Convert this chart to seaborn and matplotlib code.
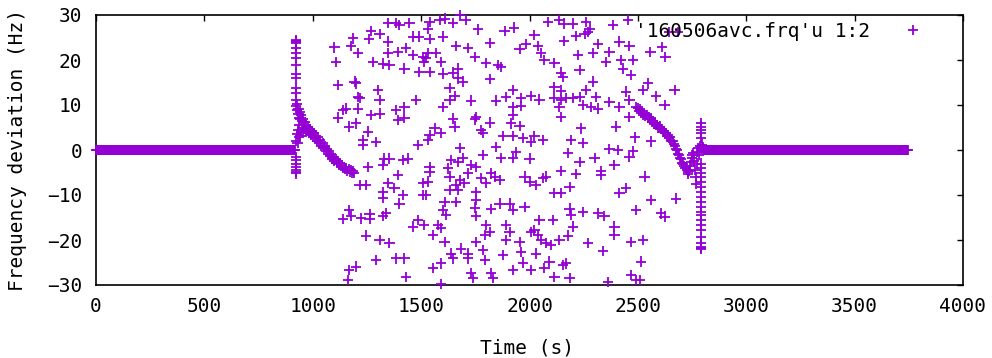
import numpy as np
import pandas as pd
import matplotlib
matplotlib.use("Agg")
import matplotlib.pyplot as plt
import seaborn as sns

# ---------------- data ----------------
series_label = "'160506avc.frq'u 1:2"
x_ticks = [0, 500, 1000, 1500, 2000, 2500, 3000, 3500, 4000]
y_ticks = [-30, -20, -10, 0, 10, 20, 30]

# steady baseline segments: (start s, end s, value Hz), sampled every few seconds
baseline_segments = [(0, 918, 0.0), (2800, 3745, 0.0)]
baseline_step = 3

# vertical transients (time, values)
spike1_t = 924
spike1_f = [24.4, 24.2, 24.0, 23.7, 22.6, 21.5, 20.4, 18.9, 17.0, 15.9, 13.7,
            12.6, 11.1, -1.5, -2.2, -3.0, -3.7, -4.4, -4.9, -5.2]
spike2_t = 2793
spike2_f = [5.9, 5.2, 4.4, 3.7, 2.6, -3.0, -4.0, -5.0, -6.0, -7.0, -8.2, -9.3,
            -10.4, -11.5, -12.6, -13.7, -14.5, -15.6, -16.7, -17.8, -19.3,
            -20.7, -21.5, -21.7, -21.9]

# dense decay after first event
decay1 = [(922, 9.8), (924, 2.0), (926, 9.0), (927, 3.5), (928, 10.2), (930, 1.5),
          (931, 8.0), (932, 4.5), (934, 9.2), (935, 2.8), (937, 7.2), (938, 5.5),
          (940, 8.5), (941, 3.2), (943, 6.8), (945, 4.0), (947, 7.8), (949, 5.0),
          (951, 6.5), (953, 4.2), (955, 7.0), (958, 5.5), (961, 4.8), (964, 6.2),
          (967, 4.0), (970, 5.6), (974, 4.4), (978, 5.2), (982, 3.8), (986, 4.6),
          (990, 3.4), (995, 4.2), (1000, 3.0), (1005, 3.8), (1010, 2.6), (1015, 3.2),
          (1020, 2.0), (1025, 2.8), (1030, 1.6), (1035, 2.2), (1040, 1.0), (1045, 1.6),
          (1050, 0.4), (1055, 0.9), (1060, -0.2), (1065, 0.3), (1070, -0.8), (1075, -0.3),
          (1080, -1.4), (1085, -0.9), (1090, -1.9), (1095, -1.5), (1100, -2.4), (1105, -2.0),
          (1110, -2.8), (1115, -2.5), (1120, -3.2), (1125, -2.9), (1130, -3.6), (1135, -3.3),
          (1140, -4.0), (1145, -3.7), (1150, -4.3), (1155, -4.0), (1160, -4.6), (1165, -4.3),
          (1170, -4.8), (1175, -4.5), (1180, -5.0), (1185, -4.7), (1190, -5.1)]

# dense recovery before second event
decay2 = [(2500, 9.3), (2505, 8.6), (2510, 9.0), (2515, 8.3), (2520, 8.6), (2525, 7.9),
          (2530, 8.2), (2535, 7.5), (2540, 7.8), (2545, 7.1), (2550, 7.4), (2555, 6.8),
          (2560, 7.0), (2565, 6.3), (2570, 6.5), (2575, 5.9), (2580, 6.1), (2585, 5.5),
          (2590, 5.6), (2595, 5.0), (2600, 5.2), (2605, 4.6), (2610, 4.7), (2615, 4.1),
          (2620, 4.3), (2625, 3.7), (2630, 3.8), (2635, 3.2), (2640, 3.3), (2645, 2.7),
          (2650, 2.8), (2655, 2.1), (2660, 2.0), (2665, 1.3), (2670, 1.0), (2675, 0.3),
          (2680, 0.0), (2685, -0.8), (2690, -1.0), (2695, -1.8), (2700, -2.1), (2705, -2.8),
          (2710, -3.0), (2715, -3.6), (2720, -3.9), (2725, -4.4), (2730, -4.8), (2733, -5.4),
          (2737, -4.6), (2740, -3.6), (2744, -2.6), (2748, -1.8), (2752, -1.2), (2756, -0.6),
          (2760, -2.5), (2763, -4.5), (2766, -6.0), (2769, -7.5), (2772, -3.0), (2775, -0.5),
          (2778, 0.5), (2782, -1.0), (2786, 0.8), (2790, 0.3), (2797, 1.2), (2800, 0.6)]

# scattered (unlocked) readings, upper half
scatter_upper = [
    (1346, 28.3), (1382, 28.3), (1400, 27.8), (1446, 28.3), (1269, 26.5), (1308, 25.8),
    (1185, 24.8), (1259, 24.6), (1346, 24.1), (1462, 25.2), (1492, 25.2), (1100, 22.8),
    (1177, 23.1), (1208, 21.5), (1346, 21.5), (1392, 21.8), (1431, 22.6), (1462, 21.1),
    (1508, 20.7), (1108, 19.6), (1277, 19.6), (1323, 19.2), (1354, 18.9), (1423, 18.1),
    (1492, 17.4), (1515, 19.6), (1116, 14.4), (1193, 15.2), (1200, 14.8), (1300, 13.3),
    (1308, 11.1), (1208, 11.8), (1216, 11.5), (1477, 11.1), (1154, 9.2), (1139, 8.9),
    (1208, 9.2), (1116, 7.2), (1269, 7.8), (1308, 8.1), (1385, 8.9), (1423, 9.6),
    (1392, 6.6), (1423, 7.2), (1169, 5.2), (1200, 5.9), (1254, 4.1), (1231, 2.2),
    (1292, 1.8), (1231, 1.1), (1485, 1.1),
    (1539, 28.5), (1585, 28.9), (1608, 29.2), (1647, 28.3), (1678, 29.9), (1708, 28.9),
    (1762, 26.8), (1885, 26.5), (1928, 27.2), (1531, 27.0), (1601, 25.2), (1539, 24.6),
    (1662, 23.1), (1716, 22.6), (1816, 23.8), (1747, 20.6), (1801, 19.4), (1854, 18.9),
    (1870, 18.5), (1954, 22.4), (1985, 23.5), (1531, 21.6), (1570, 21.5), (1524, 20.4),
    (1593, 19.6), (1539, 17.4), (1601, 17.0), (1647, 17.2), (1670, 18.1), (1670, 15.9),
    (1693, 15.2), (1816, 15.7), (1631, 13.7), (1654, 12.0), (1631, 11.1), (1731, 11.0),
    (1847, 11.0), (1893, 11.7), (1924, 13.3), (1962, 11.5), (2008, 12.0), (1601, 9.5),
    (1924, 9.5), (1962, 9.8), (1924, 7.8), (1754, 7.4), (1747, 6.8), (1647, 7.0),
    (1654, 5.2), (1816, 6.1), (1777, 4.4), (1785, 3.8), (1916, 5.9), (1954, 5.3),
    (1562, 4.8), (1593, 3.7), (1539, 3.3), (1531, 2.2), (1877, 3.1), (1924, 3.1),
    (1970, 2.6), (2008, 1.8),
    (2085, 28.5), (2138, 28.9), (2161, 28.1), (2200, 28.1), (2261, 28.5), (2277, 27.0),
    (2269, 26.3), (2385, 27.8), (2454, 28.9), (2023, 25.5), (2161, 24.3), (2215, 25.3),
    (2254, 25.8), (2315, 23.5), (2415, 24.1), (2461, 23.1), (2038, 23.1), (2054, 21.6),
    (2069, 20.0), (2115, 19.4), (2223, 21.1), (2292, 21.5), (2369, 21.8), (2354, 19.6),
    (2423, 20.0), (2431, 18.1), (2477, 20.0), (2469, 16.6), (2146, 17.2), (2154, 16.3),
    (2231, 17.8), (2292, 15.2), (2115, 13.9), (2146, 13.2), (2261, 13.3), (2115, 11.5),
    (2146, 11.1), (2200, 11.5), (2231, 11.7), (2046, 11.2), (2138, 9.6), (2146, 7.4),
    (2169, 11.5), (2246, 10.0), (2285, 9.6), (2308, 11.8), (2315, 9.2), (2369, 10.7),
    (2415, 9.5), (2446, 13.0), (2461, 11.1), (2492, 9.6), (2461, 7.4), (2238, 4.8),
    (2400, 5.2), (2023, 3.1), (2062, 2.2), (2192, 2.3), (2246, 1.6), (2485, 2.8),
    (2642, 26.2), (2683, 26.2), (2558, 21.8), (2610, 22.9), (2627, 20.6),
    (2546, 14.8), (2523, 13.3), (2585, 11.9), (2669, 13.3), (2623, 10.0), (2562, 1.9),
]

# scattered readings, lower half
scatter_lower = [
    (1331, -1.9), (1354, -1.9), (1415, -2.2), (1439, -1.9), (1323, -3.3), (1254, -3.7),
    (1216, -7.8), (1246, -7.8), (1392, -5.6), (1346, -7.4), (1377, -8.5), (1323, -9.3),
    (1323, -10.7), (1415, -10.0), (1400, -11.9), (1508, -7.4), (1508, -10.0), (1169, -13.3),
    (1177, -14.6), (1139, -15.3), (1223, -15.2), (1262, -14.3), (1262, -15.3), (1323, -14.6),
    (1339, -14.1), (1485, -15.6), (1462, -17.0), (1515, -16.7), (1246, -19.0), (1308, -20.0),
    (1354, -20.7), (1292, -24.5), (1385, -24.1), (1423, -24.1), (1169, -26.7), (1200, -25.9),
    (1162, -28.9), (1431, -28.2),
    (1678, 0.4), (1847, 0.7), (1539, -3.7), (1539, -4.8), (1624, -4.1), (1639, -2.2),
    (1693, -1.7), (1670, -2.6), (1731, -3.3), (1754, -3.7), (1785, -1.1), (1716, -5.2),
    (1631, -5.9), (1678, -6.7), (1662, -7.8), (1531, -7.0), (1700, -7.4), (1777, -6.3),
    (1801, -7.4), (1824, -5.2), (1839, -5.9), (1862, -6.7), (1870, -1.7), (1924, -1.7),
    (1939, -0.4), (2000, -1.9), (1977, -5.9), (2000, -7.0), (1524, -10.0), (1631, -8.9),
    (1670, -8.9), (1754, -9.3), (1608, -11.5), (1662, -11.5), (1754, -11.1), (1747, -12.8),
    (1824, -13.1), (1862, -11.9), (1908, -11.9), (1924, -13.3), (1977, -12.6), (1601, -13.3),
    (1616, -14.5), (1754, -14.6), (1578, -16.7), (1554, -18.9), (1593, -17.4), (1801, -16.7),
    (1816, -18.2), (1793, -18.9), (1893, -16.7), (1908, -18.2), (1893, -20.0), (1954, -20.4),
    (2008, -18.2), (1608, -20.5), (1754, -20.5), (1785, -22.2), (1639, -23.0), (1685, -21.9),
    (1716, -23.0), (1647, -24.1), (1716, -24.1), (1793, -24.5), (1877, -23.3), (1962, -22.6),
    (1970, -25.0), (1593, -25.2), (1554, -26.3), (1924, -26.7), (1731, -27.4), (1739, -28.5),
    (1824, -27.4), (1831, -28.5), (1593, -29.8),
    (2177, -0.7), (2231, -2.6), (2300, -1.7), (2369, 0.2), (2408, 0.0), (2461, -1.5),
    (2477, -0.2), (2392, -3.3), (2331, -4.7), (2331, -5.6), (2215, -5.4), (2146, -4.7),
    (2077, -5.9), (2062, -6.3), (2031, -7.8), (2185, -8.2), (2115, -9.6), (2146, -9.6),
    (2415, -9.6), (2446, -8.4), (2185, -13.0), (2192, -14.5), (2246, -13.7), (2315, -14.1),
    (2346, -14.6), (2200, -17.0), (2108, -15.6), (2046, -15.6), (2392, -17.0), (2392, -18.9),
    (2492, -13.3), (2469, -20.4), (2023, -17.8), (2038, -18.9), (2054, -20.0), (2077, -20.7),
    (2100, -21.1), (2031, -23.0), (2138, -20.0), (2177, -19.0), (2269, -20.7), (2338, -22.5),
    (2092, -24.8), (2069, -26.3), (2154, -25.6), (2169, -25.2), (2115, -28.2), (2185, -28.5),
    (2008, -26.7), (2361, -29.3), (2469, -27.8), (2492, -28.9),
    (2531, -5.9), (2562, -11.1), (2677, -10.8), (2608, -14.1), (2623, -14.8), (2523, -20.0),
    (2516, -24.8), (2508, -28.9),
]

# ---------------- assemble ----------------
t_all, f_all = [], []
for start, end, val in baseline_segments:
    ts = np.arange(start, end + 1, baseline_step)
    t_all.extend(ts.tolist())
    f_all.extend([val] * len(ts))
for v in spike1_f:
    t_all.append(spike1_t); f_all.append(v)
for v in spike2_f:
    t_all.append(spike2_t); f_all.append(v)
for group in (decay1, decay2, scatter_upper, scatter_lower):
    for t, f in group:
        t_all.append(t); f_all.append(f)

df = pd.DataFrame({"Time (s)": t_all, "Frequency deviation (Hz)": f_all,
                   "series": series_label})

# ---------------- plot ----------------
sns.set_theme(style="white")
plt.rcParams["font.family"] = ["DejaVu Sans Mono", "DejaVu Sans"]

fig = plt.figure(figsize=(9.92, 3.58), dpi=100)
ax = fig.add_axes([96 / 992, 1 - 285 / 358, 867 / 992, 270 / 358])

purple = "#9400D3"
sns.scatterplot(data=df, x="Time (s)", y="Frequency deviation (Hz)", hue="series",
                palette=[purple], marker="+", s=54, linewidth=1.3, ax=ax,
                clip_on=False, zorder=3)

ax.set_xlim(0, 4000)
ax.set_ylim(-30, 30)
ax.set_xticks(x_ticks)
ax.set_yticks(y_ticks)
ax.tick_params(direction="in", length=4.5, width=1.0, top=True, right=True,
               labelsize=14, colors="black", pad=10)
ax.tick_params(axis="x", pad=9)
for sp in ax.spines.values():
    sp.set_color("black")
    sp.set_linewidth(1.2)
    sp.set_visible(True)

ax.set_xlabel("Time (s)", fontsize=14, color="black")
ax.set_ylabel("Frequency deviation (Hz)", fontsize=14, color="black")
ax.xaxis.label.set_va("center")
ax.yaxis.label.set_va("center")
ax.xaxis.set_label_coords(0.497, (285 - 348) / 270)
ax.yaxis.set_label_coords((18 - 96) / 867, 0.5)

leg = ax.legend(loc="upper right", bbox_to_anchor=(928 / 992, 1 - 22 / 358),
                bbox_transform=fig.transFigure, frameon=False, markerfirst=False,
                fontsize=14, handlelength=1.5, handletextpad=1.5, borderpad=0,
                borderaxespad=0, markerscale=1.0)
for txt in leg.get_texts():
    txt.set_color("black")

fig.savefig("out.png", dpi=100)
